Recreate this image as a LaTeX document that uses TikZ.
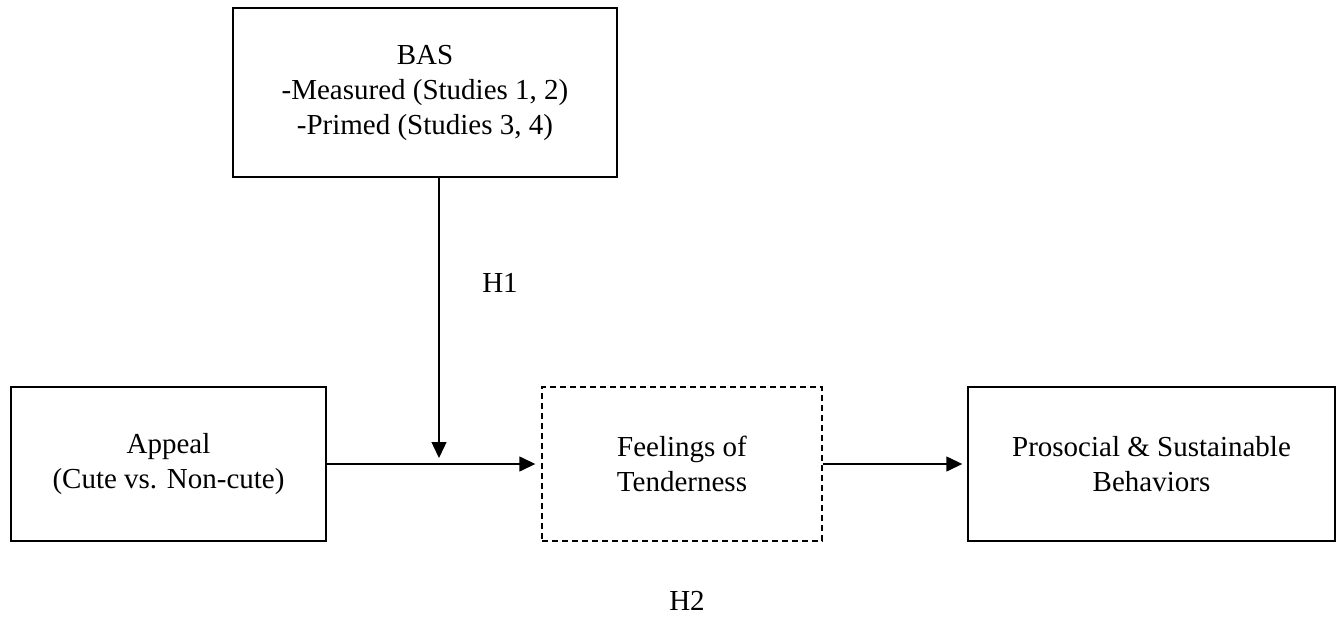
\documentclass[tikz,border=0pt]{standalone}
\usepackage{fontspec}
\setmainfont{Liberation Serif}
\usetikzlibrary{arrows.meta}
\begin{document}
\begin{tikzpicture}[x=1pt,y=-1pt,
  boxnode/.style={draw,line width=1.4pt,rectangle,align=center,inner sep=0pt,
    font=\fontsize{29}{35}\selectfont},
  dashbox/.style={boxnode,dash pattern=on 6pt off 4pt},
  lbl/.style={font=\fontsize{29}{35}\selectfont,inner sep=0pt},
  arr/.style={line width=1.4pt,-{Triangle[length=16pt,width=15pt]}}]
\useasboundingbox (0,0) rectangle (1343,620);
\node[boxnode,minimum width=384pt,minimum height=169pt] (bas) at (425,92.5)
  {BAS\\-Measured (Studies 1, 2)\\-Primed (Studies 3, 4)};
\node[boxnode,minimum width=315pt,minimum height=154pt] (appeal) at (168.5,464)
  {Appeal\\(Cute vs. Non-cute)};
\node[dashbox,minimum width=280pt,minimum height=154pt] (feel) at (682,464)
  {Feelings of\\Tenderness};
\node[boxnode,minimum width=367pt,minimum height=154pt] (pro) at (1151.5,464)
  {Prosocial \& Sustainable\\Behaviors};
\coordinate (vend) at (439,458);
\draw[arr,shorten >=6pt] (appeal.east) -- (feel.west);
\draw[arr,shorten >=5pt] (feel.east) -- (pro.west);
\draw[arr] (bas.south -| vend) -- (vend);
\node[lbl] (h1) at (500,283) {H1};
\node[lbl] (h2) at (687,601) {H2};
\end{tikzpicture}
\end{document}
